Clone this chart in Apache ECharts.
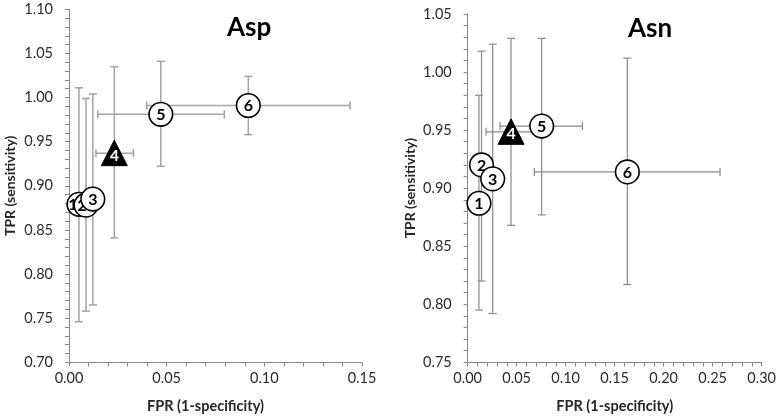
<!DOCTYPE html>
<html>
<head>
<meta charset="utf-8">
<script src="https://cdn.jsdelivr.net/npm/echarts@6/dist/echarts.min.js"></script>
<style>html,body{margin:0;padding:0;background:#fff}#c{width:780px;height:420px}</style>
</head>
<body>
<div id="c"></div>
<script>
// ---- data ----
const pointLabels = ['1', '2', '3', '4', '5', '6'];
const pointShapes = ['circle', 'circle', 'circle', 'triangle', 'circle', 'circle'];

// Asp panel
const aspX     = [0.0051, 0.0087, 0.0122, 0.0232, 0.047, 0.0918];
const aspY     = [0.879, 0.878, 0.885, 0.937, 0.981, 0.991];
const aspYLow  = [0.746, 0.758, 0.765, 0.841, 0.922, 0.958];
const aspYHigh = [1.011, 0.999, 1.004, 1.035, 1.041, 1.024];
const aspXLow  = [null, null, null, 0.0138, 0.0147, 0.0398];
const aspXHigh = [null, null, null, 0.033, 0.0795, 0.1439];

// Asn panel
const asnX     = [0.0115, 0.0141, 0.0255, 0.0442, 0.0755, 0.1629];
const asnY     = [0.887, 0.920, 0.908, 0.9485, 0.9535, 0.914];
const asnYLow  = [0.795, 0.820, 0.792, 0.868, 0.877, 0.817];
const asnYHigh = [0.980, 1.018, 1.024, 1.029, 1.029, 1.012];
const asnXLow  = [null, null, null, 0.0187, 0.033, 0.068];
const asnXHigh = [null, null, null, 0.069, 0.117, 0.2575];

const panelTitles = ['Asp', 'Asn'];
const xAxisTitle = 'FPR (1-specificity)';
const yAxisTitle = 'TPR (sensitivity)';

// ---- style ----
const FONT = 'Lato';
// label nudges (pixels) for crowded markers in the Asp panel
const aspLabelShift = [-6, -4, 0, 0, 0, 0];
const asnLabelShift = [0, 0, 0, 0, 0, 0];

const chart = echarts.init(document.getElementById('c'), null, {renderer: 'canvas'});

function errorRenderer(xs, ys, yl, yh, xl, xh, color, lw) {
  return function (params, api) {
    const i = params.dataIndex;
    const cap = 4;
    const st = {stroke: color, lineWidth: lw};
    const ch = [];
    const a = api.coord([xs[i], yl[i]]);
    const b = api.coord([xs[i], yh[i]]);
    ch.push({type: 'line', shape: {x1: a[0], y1: a[1], x2: b[0], y2: b[1]}, style: st});
    ch.push({type: 'line', shape: {x1: a[0] - cap, y1: a[1], x2: a[0] + cap, y2: a[1]}, style: st});
    ch.push({type: 'line', shape: {x1: b[0] - cap, y1: b[1], x2: b[0] + cap, y2: b[1]}, style: st});
    if (xl[i] != null && xh[i] != null) {
      const c = api.coord([xl[i], ys[i]]);
      const d = api.coord([xh[i], ys[i]]);
      ch.push({type: 'line', shape: {x1: c[0], y1: c[1], x2: d[0], y2: d[1]}, style: st});
      ch.push({type: 'line', shape: {x1: c[0], y1: c[1] - cap, x2: c[0], y2: c[1] + cap}, style: st});
      ch.push({type: 'line', shape: {x1: d[0], y1: d[1] - cap, x2: d[0], y2: d[1] + cap}, style: st});
    }
    return {type: 'group', children: ch};
  };
}

function markerRenderer(shift) {
  return function (params, api) {
    const i = params.dataIndex;
    const p = api.coord([api.value(0), api.value(1)]);
    const ch = [];
    const tri = pointShapes[i] === 'triangle';
    if (tri) {
      ch.push({type: 'polygon', z2: i * 2,
        shape: {points: [[p[0], p[1] - 13], [p[0] + 13, p[1] + 12.5], [p[0] - 13, p[1] + 12.5]]},
        style: {fill: '#000', stroke: '#000', lineWidth: 1}});
    } else {
      ch.push({type: 'circle', z2: i * 2, shape: {cx: p[0], cy: p[1], r: 11.8},
        style: {fill: '#fff', stroke: '#000', lineWidth: 1.6}});
    }
    ch.push({type: 'text', z2: i * 2 + 1, x: p[0] + shift[i], y: tri ? p[1] + 2.5 : p[1] + 0.5,
      style: {text: pointLabels[i], align: 'center', verticalAlign: 'middle',
        font: 'bold 16px ' + FONT, fill: tri ? '#fff' : '#000'}});
    return {type: 'group', children: ch};
  };
}

function xAxisCfg(grid, max, namePad) {
  return {
    gridIndex: grid, type: 'value', min: 0, max: max, interval: 0.05,
    name: xAxisTitle, nameLocation: 'middle', nameGap: 37,
    nameTextStyle: {fontFamily: FONT, fontWeight: 'bold', fontSize: 14.5, color: '#262626',
      padding: namePad},
    axisLine: {show: true, onZero: false, lineStyle: {color: '#888', width: 1}},
    axisTick: {show: true, inside: false, length: 4, lineStyle: {color: '#888'}},
    minorTick: {show: true, splitNumber: 5, length: 4, lineStyle: {color: '#888'}},
    splitLine: {show: false},
    axisLabel: {fontFamily: FONT, fontSize: 14.5, color: '#2b2b2b', margin: 9,
      formatter: v => v.toFixed(2)}
  };
}
function yAxisCfg(grid, min, max, gap) {
  return {
    gridIndex: grid, type: 'value', min: min, max: max, interval: 0.05,
    name: yAxisTitle, nameLocation: 'middle', nameGap: gap, nameRotate: 90,
    nameTextStyle: {fontFamily: FONT, fontWeight: 'bold', fontSize: 14, color: '#262626'},
    axisLine: {show: true, onZero: false, lineStyle: {color: '#888', width: 1}},
    axisTick: {show: true, inside: false, length: 4, lineStyle: {color: '#888'}},
    minorTick: {show: true, splitNumber: 5, length: 4, lineStyle: {color: '#888'}},
    splitLine: {show: false},
    axisLabel: {fontFamily: FONT, fontSize: 14.5, color: '#2b2b2b', margin: 16,
      formatter: v => v.toFixed(2)}
  };
}

const option = {
  animation: false,
  backgroundColor: '#fff',
  title: [
    {text: panelTitles[0], left: 222, top: 10,
      textStyle: {fontFamily: FONT, fontWeight: 'bold', fontSize: 26, color: '#000'}},
    {text: panelTitles[1], left: 623, top: 11,
      textStyle: {fontFamily: FONT, fontWeight: 'bold', fontSize: 26, color: '#000'}}
  ],
  grid: [
    {left: 69, top: 9.3, width: 293, height: 353, containLabel: false},
    {left: 467.7, top: 14, width: 294, height: 348.3, containLabel: false}
  ],
  xAxis: [xAxisCfg(0, 0.15, [0, 20, 0, 0]), xAxisCfg(1, 0.30, 0)],
  yAxis: [yAxisCfg(0, 0.70, 1.10, 52), yAxisCfg(1, 0.75, 1.05, 50)],
  series: [
    {type: 'custom', xAxisIndex: 0, yAxisIndex: 0, z: 1, silent: true,
      renderItem: errorRenderer(aspX, aspY, aspYLow, aspYHigh, aspXLow, aspXHigh, '#a3a3a3', 1.5),
      data: aspX.map((x, i) => [x, aspY[i]])},
    {type: 'custom', xAxisIndex: 0, yAxisIndex: 0, z: 2, silent: true,
      renderItem: markerRenderer(aspLabelShift),
      data: aspX.map((x, i) => [x, aspY[i]])},
    {type: 'custom', xAxisIndex: 1, yAxisIndex: 1, z: 1, silent: true,
      renderItem: errorRenderer(asnX, asnY, asnYLow, asnYHigh, asnXLow, asnXHigh, '#8a8a8a', 1.2),
      data: asnX.map((x, i) => [x, asnY[i]])},
    {type: 'custom', xAxisIndex: 1, yAxisIndex: 1, z: 2, silent: true,
      renderItem: markerRenderer(asnLabelShift),
      data: asnX.map((x, i) => [x, asnY[i]])}
  ]
};
chart.setOption(option);
</script>
</body>
</html>
